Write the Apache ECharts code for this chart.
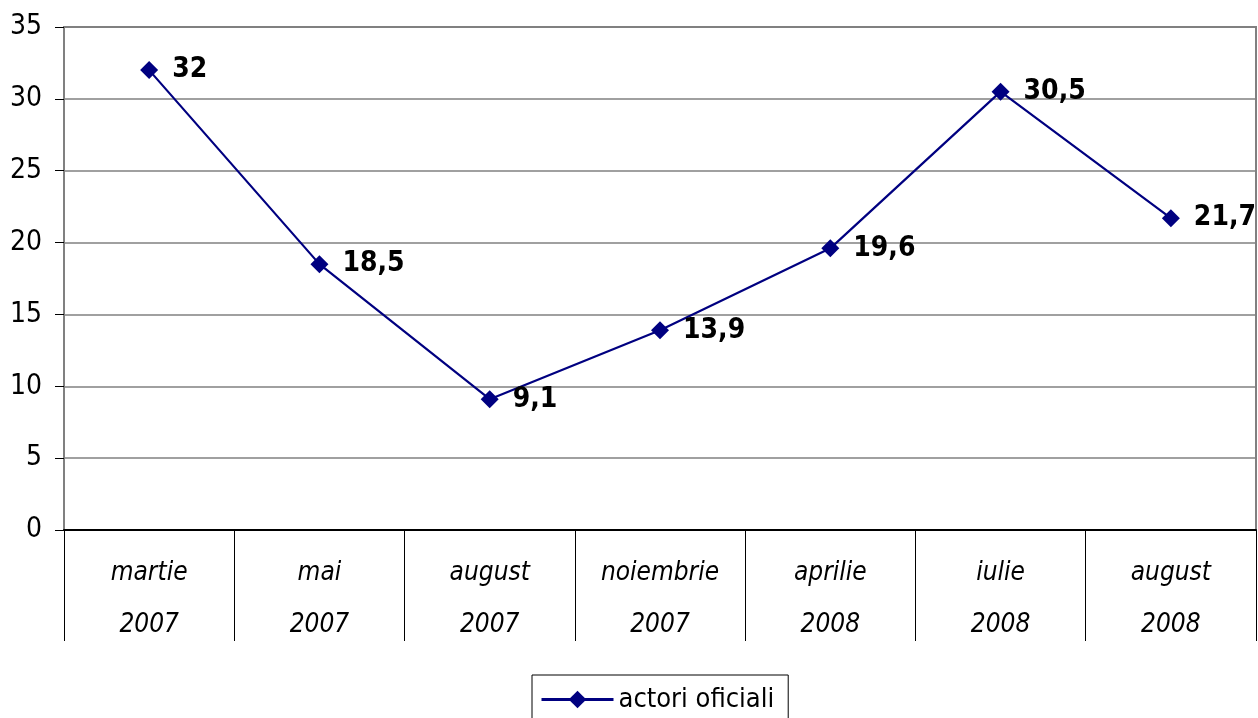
<!DOCTYPE html>
<html>
<head>
<meta charset="utf-8">
<script src="https://cdn.jsdelivr.net/npm/echarts@6/dist/echarts.min.js"></script>
<style>
  html, body { margin: 0; padding: 0; background: #fff; }
  #grafic { width: 1258px; height: 718px; }
</style>
</head>
<body>
<div id="grafic"></div>
<script>
// date
const luni = ["martie\n2007", "mai\n2007", "august\n2007", "noiembrie\n2007", "aprilie\n2008", "iulie\n2008", "august\n2008"];
const valori = [32, 18.5, 9.1, 13.9, 19.6, 30.5, 21.7];
const numeSerie = "actori oficiali";

const fontText = "'DejaVu Sans Condensed', 'DejaVu Sans', Verdana, sans-serif";

const chart = echarts.init(document.getElementById("grafic"));

const option = {
  backgroundColor: "#fff",
  animation: false,
  grid: {
    left: 64,
    right: 2,
    top: 27,
    bottom: 188,
    show: true,
    borderColor: "#808080",
    borderWidth: 2
  },
  xAxis: {
    type: "category",
    data: luni,
    boundaryGap: true,
    axisLine: { lineStyle: { color: "#000", width: 2 } },
    axisTick: {
      show: true,
      alignWithLabel: false,
      length: 111,
      lineStyle: { color: "#000", width: 1 }
    },
    axisLabel: {
      margin: 17,
      fontFamily: fontText,
      fontStyle: "italic",
      fontSize: 26,
      lineHeight: 52,
      color: "#000"
    }
  },
  yAxis: {
    type: "value",
    min: 0,
    max: 35,
    interval: 5,
    axisLine: { show: true, lineStyle: { color: "#808080", width: 2 } },
    axisTick: { show: true, length: 9, lineStyle: { color: "#000" } },
    axisLabel: {
      margin: 22,
      fontFamily: fontText,
      fontSize: 28,
      color: "#000"
    },
    splitLine: { lineStyle: { color: "#808080", width: 1.5 } }
  },
  legend: {
    data: [numeSerie],
    top: 675,
    left: 532,
    borderColor: "#000",
    borderWidth: 1,
    padding: [11, 14, 11, 8],
    itemWidth: 72,
    itemHeight: 22,
    itemGap: 6,
    lineStyle: { width: 3 },
    textStyle: { fontFamily: fontText, fontSize: 27, color: "#000" }
  },
  series: [
    {
      name: numeSerie,
      type: "line",
      data: valori,
      color: "#000080",
      symbol: "diamond",
      symbolSize: 18,
      lineStyle: { width: 2.2, color: "#000080" },
      itemStyle: { color: "#000080" },
      label: {
        show: true,
        position: "right",
        distance: 14,
        fontFamily: fontText,
        fontWeight: "bold",
        fontSize: 28,
        color: "#000",
        formatter: (p) => String(p.value).replace(".", ",")
      }
    }
  ]
};

chart.setOption(option);
</script>
</body>
</html>
